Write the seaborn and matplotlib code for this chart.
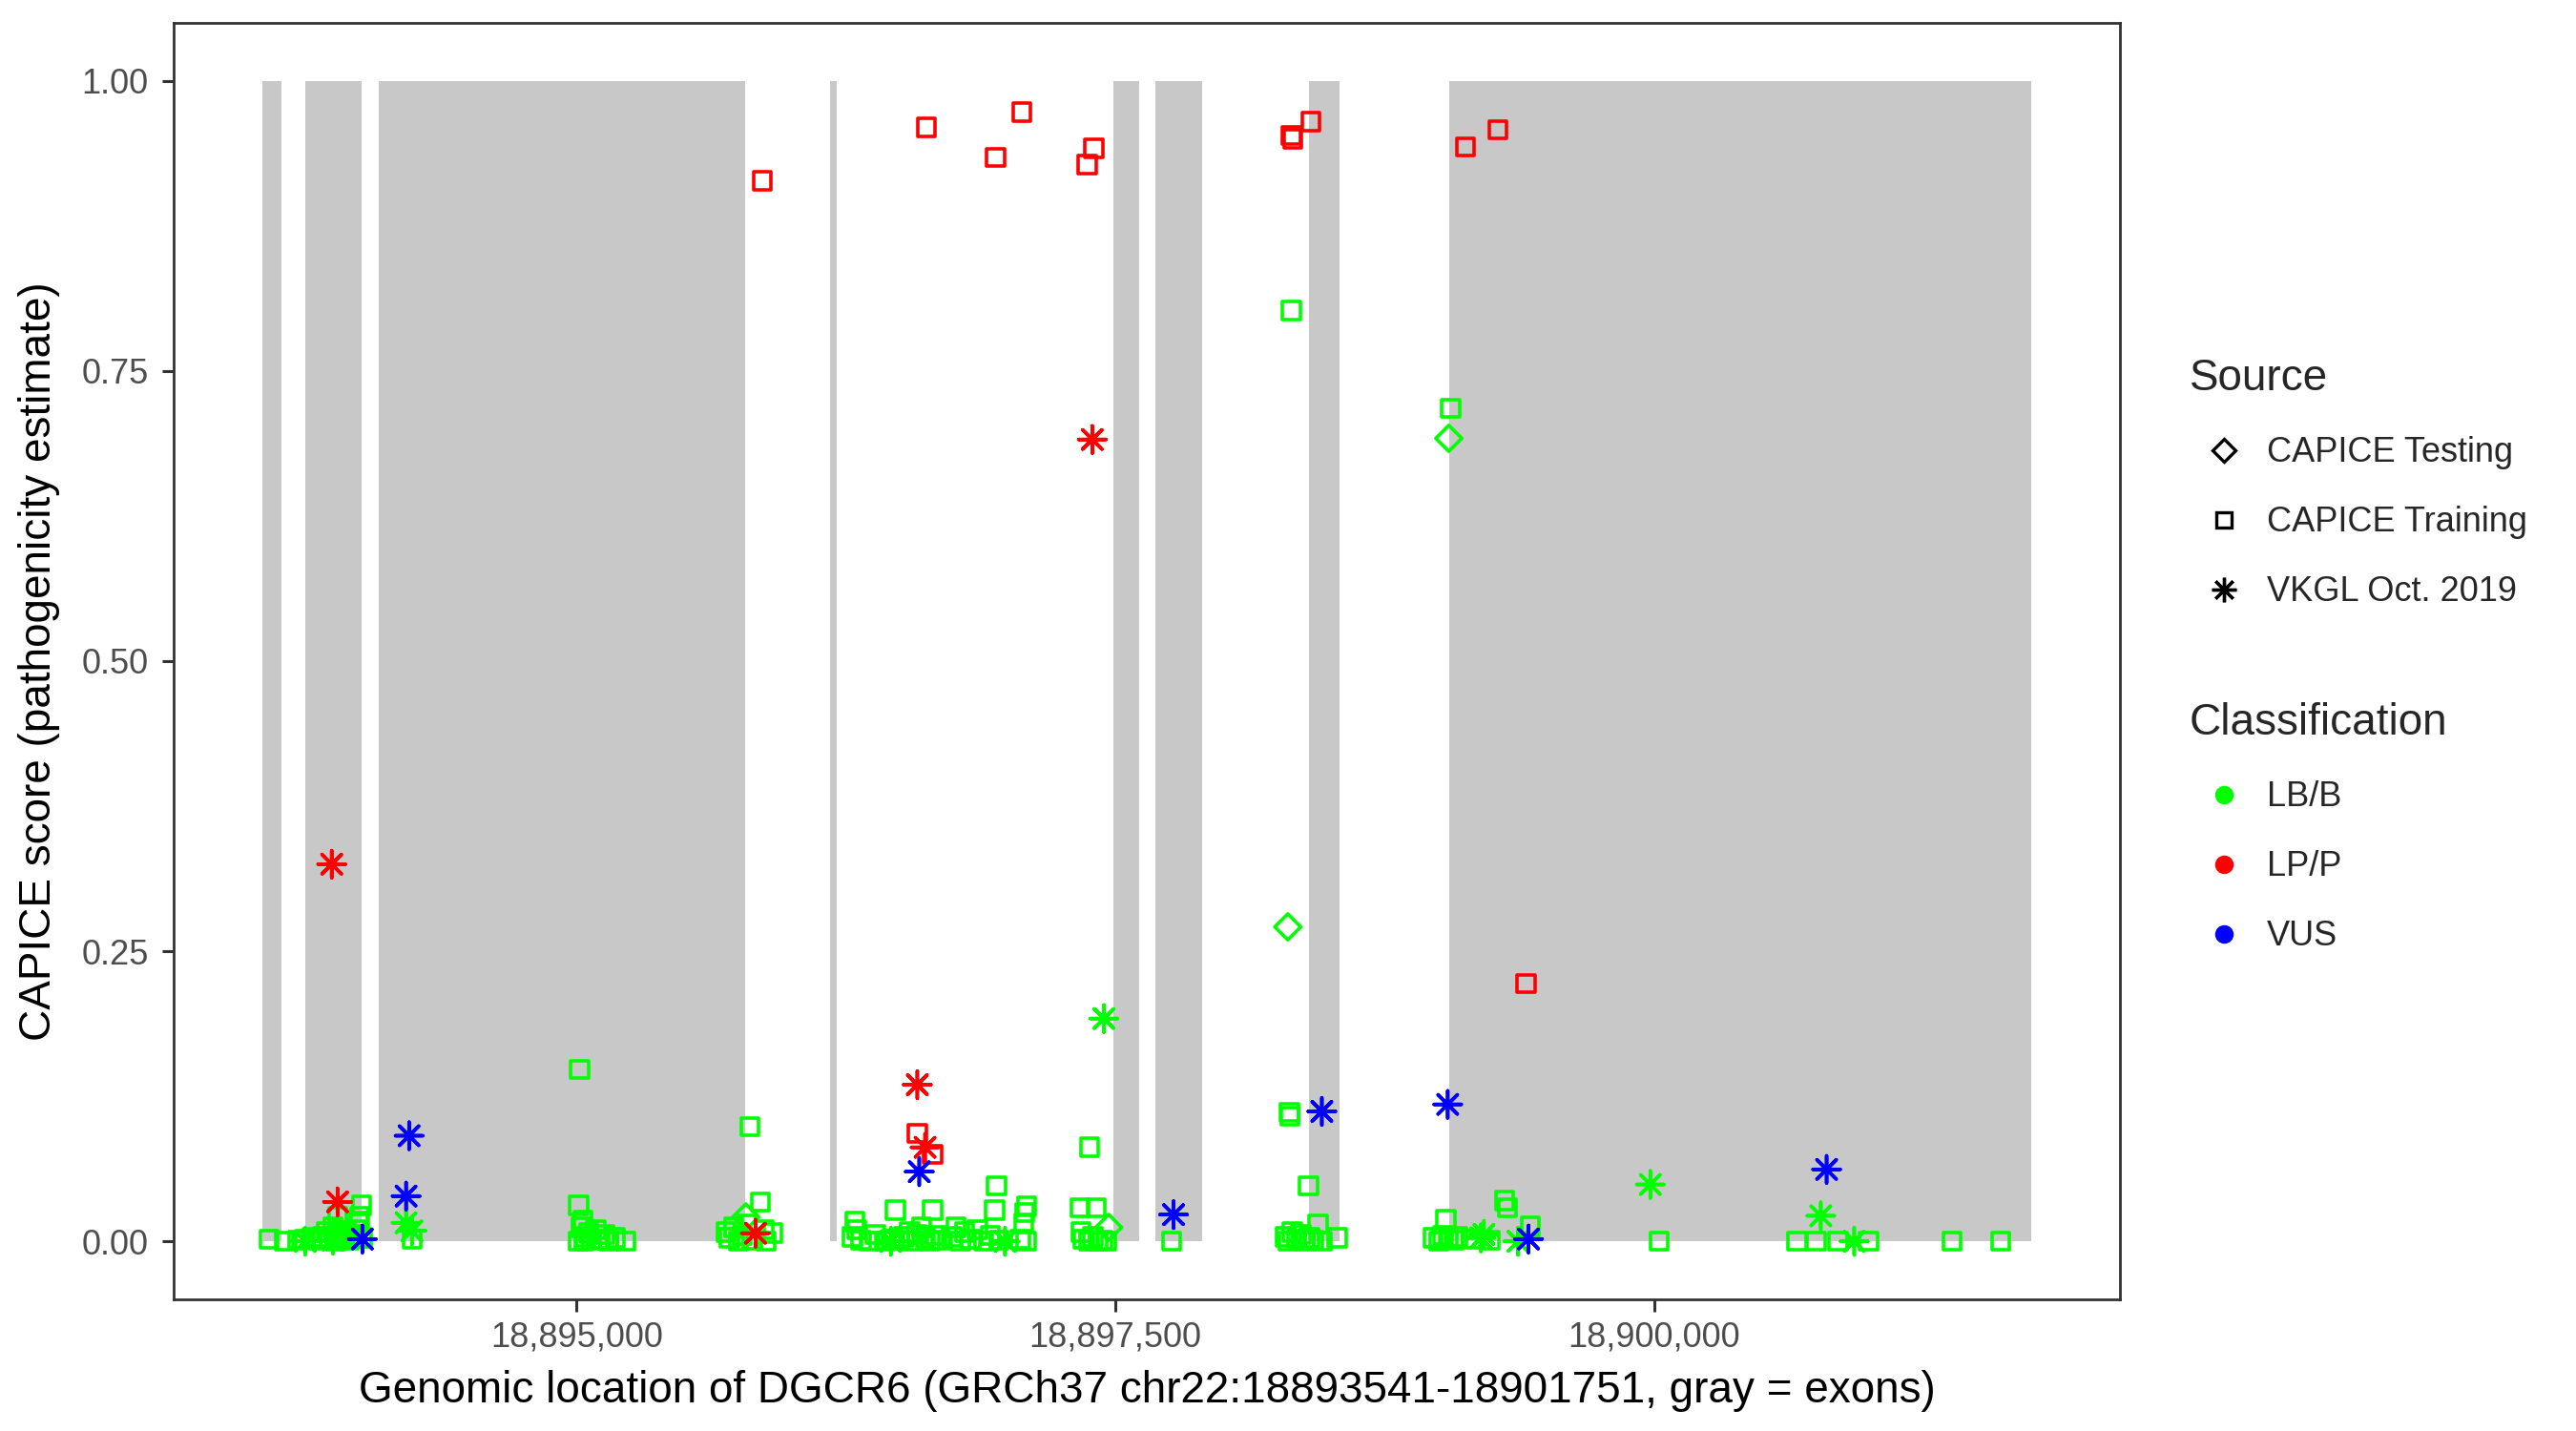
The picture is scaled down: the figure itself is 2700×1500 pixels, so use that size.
import numpy as np
import pandas as pd
import matplotlib
matplotlib.use('Agg')
import matplotlib.pyplot as plt
from matplotlib.lines import Line2D
from matplotlib.ticker import FuncFormatter
import seaborn as sns

# Gene region and exons (GRCh37 chr22)
gene_start = 18893541
gene_end = 18901751
exon_start = [18893541, 18893741, 18894081, 18896175, 18897491, 18897686, 18898397, 18899050]
exon_end = [18893631, 18894002, 18895782, 18896206, 18897610, 18897902, 18898538, 18901751]

# CAPICE Training, LB/B
train_lbb_pos = [18893573, 18893644, 18893706, 18893737, 18893772, 18893800, 18893820, 18893840,
                 18893855, 18893870, 18893880, 18893893, 18893900, 18893915, 18893930, 18893945,
                 18893960, 18893975, 18893990, 18893995, 18894002, 18894008, 18894236,
                 18895009, 18895015, 18895020, 18895030, 18895040, 18895055, 18895070, 18895090,
                 18895110, 18895130, 18895150, 18895180, 18895230, 18895010, 18895035,
                 18895693, 18895710, 18895730, 18895750, 18895770, 18895790, 18895804, 18895815,
                 18895853, 18895870, 18895880, 18895910,
                 18896281, 18896290, 18896300, 18896320, 18896360, 18896387,
                 18896430, 18896460, 18896480, 18896500, 18896520, 18896545, 18896560, 18896580,
                 18896600, 18896620, 18896640, 18896652, 18896670, 18896690,
                 18896740, 18896760, 18896780, 18896800, 18896830, 18896860, 18896890, 18896920,
                 18896939, 18896948, 18896960, 18897089, 18897080, 18897075, 18897085, 18897060,
                 18897336, 18897412, 18897340, 18897381, 18897350, 18897375, 18897395, 18897420,
                 18897440, 18897460, 18897761,
                 18898308, 18898310, 18898316, 18898397, 18898441, 18898290, 18898300, 18898320,
                 18898340, 18898360, 18898380, 18898400, 18898420, 18898460, 18898529,
                 18899033, 18899055, 18898975, 18899000, 18899020, 18899045, 18899070, 18899090,
                 18899152, 18899240, 18899307, 18899320, 18899426,
                 18900022, 18900663, 18900751, 18900853, 18900994, 18901383, 18901608]
train_lbb_score = [0.002, 0.000, 0.001, 0.002, 0.003, 0.001, 0.004, 0.008,
                   0.002, 0.012, 0.000, 0.021, 0.006, 0.003, 0.009, 0.001,
                   0.005, 0.010, 0.017, 0.021, 0.031, 0.003, 0.002,
                   0.031, 0.148, 0.012, 0.018, 0.004, 0.007, 0.001, 0.010,
                   0.002, 0.006, 0.000, 0.003, 0.000, 0.000, 0.000,
                   0.008, 0.003, 0.012, 0.000, 0.005, 0.015, 0.099, 0.001,
                   0.034, 0.010, 0.000, 0.007,
                   0.004, 0.017, 0.010, 0.001, 0.000, 0.006,
                   0.000, 0.002, 0.027, 0.001, 0.004, 0.008, 0.000, 0.006,
                   0.012, 0.003, 0.000, 0.027, 0.005, 0.001,
                   0.004, 0.012, 0.000, 0.008, 0.002, 0.010, 0.000, 0.005,
                   0.027, 0.048, 0.001, 0.030, 0.025, 0.016, 0.000, 0.002,
                   0.029, 0.029, 0.008, 0.081, 0.002, 0.000, 0.004, 0.000,
                   0.001, 0.000, 0.000,
                   0.111, 0.108, 0.802, 0.048, 0.015, 0.004, 0.000, 0.008,
                   0.002, 0.006, 0.000, 0.003, 0.001, 0.000, 0.003,
                   0.019, 0.718, 0.003, 0.000, 0.005, 0.002, 0.001, 0.004,
                   0.002, 0.001, 0.035, 0.029, 0.013,
                   0.000, 0.000, 0.000, 0.000, 0.000, 0.000, 0.000]

# CAPICE Training, LP/P
train_lpp_pos = [18895861, 18896624, 18896944, 18897066, 18897370, 18897401, 18898316, 18898323,
                 18898407, 18899124, 18899276, 18899406, 18896581, 18896652]
train_lpp_score = [0.914, 0.960, 0.934, 0.973, 0.928, 0.942, 0.953, 0.950,
                   0.965, 0.943, 0.958, 0.222, 0.093, 0.075]

# CAPICE Testing, LB/B
test_lbb_pos = [18898300, 18899047, 18897469, 18895785, 18893893]
test_lbb_score = [0.271, 0.692, 0.012, 0.021, 0.010]

# VKGL Oct. 2019
vkgl_lbb_pos = [18893741, 18893870, 18894209, 18894236, 18896458, 18896988, 18897447, 18899196,
                18899210, 18899368, 18899982, 18900773, 18900928]
vkgl_lbb_score = [0.000, 0.001, 0.016, 0.009, 0.000, 0.000, 0.192, 0.003,
                  0.006, 0.000, 0.049, 0.022, 0.000]
vkgl_vus_pos = [18894006, 18894223, 18894209, 18896590, 18897770, 18898458, 18899042, 18899417, 18900800]
vkgl_vus_score = [0.002, 0.091, 0.039, 0.060, 0.023, 0.112, 0.118, 0.002, 0.062]
vkgl_lpp_pos = [18893864, 18893891, 18895830, 18896581, 18896617, 18897393]
vkgl_lpp_score = [0.325, 0.034, 0.007, 0.135, 0.081, 0.691]

source_names = ['CAPICE Testing', 'CAPICE Training', 'VKGL Oct. 2019']
class_names = ['LB/B', 'LP/P', 'VUS']
class_colors = {'LB/B': '#00FF00', 'LP/P': '#FF0000', 'VUS': '#0000FF'}
source_markers = {'CAPICE Testing': 'D', 'CAPICE Training': 's', 'VKGL Oct. 2019': (8, 2, 0)}
source_sizes = {'CAPICE Testing': 48, 'CAPICE Training': 44, 'VKGL Oct. 2019': 105}


def frame(pos, score, source, cls):
    return pd.DataFrame({'pos': pos, 'score': score, 'source': source, 'cls': cls})


data = pd.concat([
    frame(train_lbb_pos, train_lbb_score, 'CAPICE Training', 'LB/B'),
    frame(train_lpp_pos, train_lpp_score, 'CAPICE Training', 'LP/P'),
    frame(test_lbb_pos, test_lbb_score, 'CAPICE Testing', 'LB/B'),
    frame(vkgl_lbb_pos, vkgl_lbb_score, 'VKGL Oct. 2019', 'LB/B'),
    frame(vkgl_vus_pos, vkgl_vus_score, 'VKGL Oct. 2019', 'VUS'),
    frame(vkgl_lpp_pos, vkgl_lpp_score, 'VKGL Oct. 2019', 'LP/P'),
], ignore_index=True)

sns.set_style('white')
plt.rcParams['font.family'] = ['Liberation Sans', 'DejaVu Sans']

fig = plt.figure(figsize=(13.5, 7.5), dpi=200)
ax = fig.add_axes([0.0674, 0.092, 0.823 - 0.0674, 0.984 - 0.092])

# exons as gray bars from 0 to 1
ax.bar(exon_start, height=1, width=np.array(exon_end) - np.array(exon_start), bottom=0,
       align='edge', color='#C8C8C8', linewidth=0, zorder=0)

for src in ['CAPICE Training', 'CAPICE Testing', 'VKGL Oct. 2019']:
    sub = data[data['source'] == src]
    sns.scatterplot(data=sub, x='pos', y='score', hue='cls', palette=class_colors,
                    marker=source_markers[src], s=source_sizes[src], linewidth=1.3,
                    legend=False, ax=ax, zorder=3)
    coll = ax.collections[-1]
    fc = coll.get_facecolors()
    if len(fc):
        coll.set_edgecolors(fc)
    coll.set_facecolors('none')
    coll.set_linewidths(1.3)

span = gene_end - gene_start
ax.set_xlim(gene_start - 0.05 * span, gene_end + 0.05 * span)
ax.set_ylim(-0.05, 1.05)
ax.set_xticks([18895000, 18897500, 18900000])
ax.xaxis.set_major_formatter(FuncFormatter(lambda v, p: f'{int(v):,}'))
ax.set_yticks([0, 0.25, 0.5, 0.75, 1.0])
ax.yaxis.set_major_formatter(FuncFormatter(lambda v, p: f'{v:.2f}'))
ax.tick_params(axis='both', which='major', length=4.5, width=1.1, color='#333333',
               labelsize=13, labelcolor='#4D4D4D', left=True, bottom=True)
ax.tick_params(axis='x', pad=3.5)
ax.tick_params(axis='y', pad=5)
for sp in ax.spines.values():
    sp.set_visible(True)
    sp.set_color('#333333')
    sp.set_linewidth(1.0)

ax.set_xlabel('Genomic location of DGCR6 (GRCh37 chr22:18893541-18901751, gray = exons)',
              fontsize=16.5, color='black', labelpad=6)
ax.set_ylabel('CAPICE score (pathogenicity estimate)', fontsize=16.5, color='black', labelpad=8)

src_handles = [Line2D([], [], linestyle='none', marker=source_markers[s],
                      markersize=np.sqrt(source_sizes[s]) * 0.9, markerfacecolor='none',
                      markeredgecolor='black', markeredgewidth=1.2) for s in source_names]
leg1 = fig.legend(src_handles, source_names, title='Source', loc='upper left',
                  bbox_to_anchor=(0.850, 0.7497), frameon=False, fontsize=13, title_fontsize=16.5,
                  handlelength=2.0, handletextpad=0.25, labelspacing=1.05, borderpad=0,
                  borderaxespad=0, alignment='left')

cls_handles = [Line2D([], [], linestyle='none', marker='o', markersize=6.0,
                      markerfacecolor=class_colors[c], markeredgecolor=class_colors[c])
               for c in class_names]
leg2 = fig.legend(cls_handles, class_names, title='Classification', loc='upper left',
                  bbox_to_anchor=(0.850, 0.509), frameon=False, fontsize=13, title_fontsize=16.5,
                  handlelength=2.0, handletextpad=0.25, labelspacing=1.05, borderpad=0,
                  borderaxespad=0, alignment='left')

fig.savefig('out.png', dpi=200)
